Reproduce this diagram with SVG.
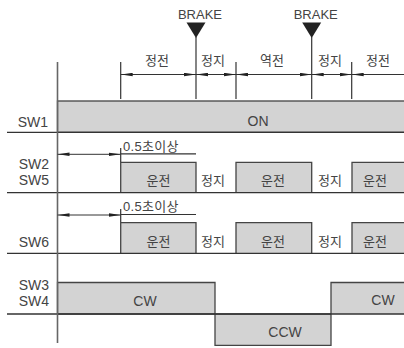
<svg xmlns="http://www.w3.org/2000/svg" width="404" height="348" viewBox="0 0 404 348">
<style>
text{font-family:"Liberation Sans","Noto Sans CJK KR",sans-serif;fill:#444;}
.lb{font-size:14px;text-anchor:end;}
.c{text-anchor:middle;font-size:13px;}
.e{text-anchor:middle;font-size:14px;}
.sig{fill:#d3d3d3;stroke:#444;stroke-width:1.3;}
.base{stroke:#333;stroke-width:1.3;fill:none;}
.tick{stroke:#333;stroke-width:1.2;fill:none;}
.dim{stroke:#333;stroke-width:1;fill:none;marker-start:url(#ar);marker-end:url(#ar);}
.dim1{stroke:#333;stroke-width:1;fill:none;marker-start:url(#ar);}
</style>
<defs>
<marker id="ar" viewBox="0 0 12 4" refX="12" refY="2" markerWidth="12" markerHeight="4" markerUnits="userSpaceOnUse" orient="auto-start-reverse">
<path d="M0,0.3 L12,2 L0,3.7 z" fill="#222"/>
</marker>
<path id="brk" d="M-9.5,22.5 L9.5,22.5 L0,38 z" fill="#222"/>
</defs>
<rect width="404" height="348" fill="#fff"/>

<g id="sw1">
<rect class="sig" x="57.5" y="101" width="350" height="31.3"/>
<text class="e" x="258" y="126">ON</text>
<text class="lb" x="48" y="127">SW1</text>
</g>

<g id="sw2">
<path class="sig" d="M120.7,192.7 V162.3 H196 V192.7"/>
<path class="sig" d="M236,192.7 V162.3 H311.7 V192.7"/>
<path class="sig" d="M352,192.7 V162.3 H406 V192.7"/>
<text class="c" x="158.5" y="185">운전</text>
<text class="c" x="213" y="185">정지</text>
<text class="c" x="273" y="185">운전</text>
<text class="c" x="330" y="185">정지</text>
<text class="c" x="375" y="185">운전</text>
<text class="lb" x="49" y="169">SW2</text>
<text class="lb" x="49" y="185">SW5</text>
</g>

<g id="sw6">
<path class="sig" d="M120.7,253.3 V222.7 H196 V253.3"/>
<path class="sig" d="M236,253.3 V222.7 H311.7 V253.3"/>
<path class="sig" d="M352,253.3 V222.7 H406 V253.3"/>
<text class="c" x="158.5" y="246">운전</text>
<text class="c" x="213" y="246">정지</text>
<text class="c" x="273" y="246">운전</text>
<text class="c" x="330" y="246">정지</text>
<text class="c" x="375" y="246">운전</text>
<text class="lb" x="49" y="247">SW6</text>
</g>

<g id="sw3">
<path class="sig" d="M57.5,314 V282.5 H215 V314 Z"/>
<path class="sig" d="M215,314 V345.3 H331 V314 Z"/>
<path class="sig" d="M331,314 V282.5 H406 V314"/>
<text class="e" x="145" y="306">CW</text>
<text class="e" x="285" y="337">CCW</text>
<text class="e" x="383" y="305">CW</text>
<text class="lb" x="49" y="290">SW3</text>
<text class="lb" x="49" y="306">SW4</text>
</g>

<g id="axes">
<line class="base" x1="7" y1="132.3" x2="404" y2="132.3"/>
<line class="base" x1="7" y1="192.7" x2="404" y2="192.7"/>
<line class="base" x1="7" y1="253.3" x2="404" y2="253.3"/>
<line class="base" x1="7" y1="314" x2="404" y2="314"/>
<line x1="57.5" y1="62" x2="57.5" y2="343" stroke="#666" stroke-width="1.6"/>
</g>

<g id="brakes">
<use href="#brk" x="196"/>
<use href="#brk" x="311.7"/>
<text class="c" x="200" y="19">BRAKE</text>
<text class="c" x="315.7" y="19">BRAKE</text>
</g>

<g id="connectors">
<line class="tick" x1="120.7" y1="62" x2="120.7" y2="99"/>
<line class="tick" x1="196" y1="37" x2="196" y2="99"/>
<line class="tick" x1="236" y1="62" x2="236" y2="99"/>
<line class="tick" x1="311.7" y1="37" x2="311.7" y2="99"/>
<line class="tick" x1="351.7" y1="62" x2="351.7" y2="99"/>
<line class="dim" x1="120.7" y1="74.5" x2="196" y2="74.5"/>
<line class="dim" x1="196" y1="74.5" x2="236" y2="74.5"/>
<line class="dim" x1="236" y1="74.5" x2="311.7" y2="74.5"/>
<line class="dim" x1="311.7" y1="74.5" x2="351.7" y2="74.5"/>
<line class="dim1" x1="351.7" y1="74.5" x2="404" y2="74.5"/>
<line class="dim" x1="57.5" y1="154.3" x2="120.7" y2="154.3"/>
<line class="tick" x1="120.7" y1="148" x2="120.7" y2="162"/>
<line class="tick" x1="120.7" y1="153.8" x2="196" y2="153.8"/>
<line class="dim" x1="57.5" y1="215" x2="120.7" y2="215"/>
<line class="tick" x1="120.7" y1="209" x2="120.7" y2="222"/>
<line class="tick" x1="120.7" y1="214.5" x2="196" y2="214.5"/>
</g>

<g id="labels">
<text class="c" x="157" y="65">정전</text>
<text class="c" x="213" y="65">정지</text>
<text class="c" x="272" y="65">역전</text>
<text class="c" x="330" y="65">정지</text>
<text class="c" x="378" y="65">정전</text>
<text x="123" y="151" style="font-size:13px;letter-spacing:0.3px">0.5초이상</text>
<text x="123" y="211" style="font-size:13px;letter-spacing:0.3px">0.5초이상</text>
</g>
</svg>
